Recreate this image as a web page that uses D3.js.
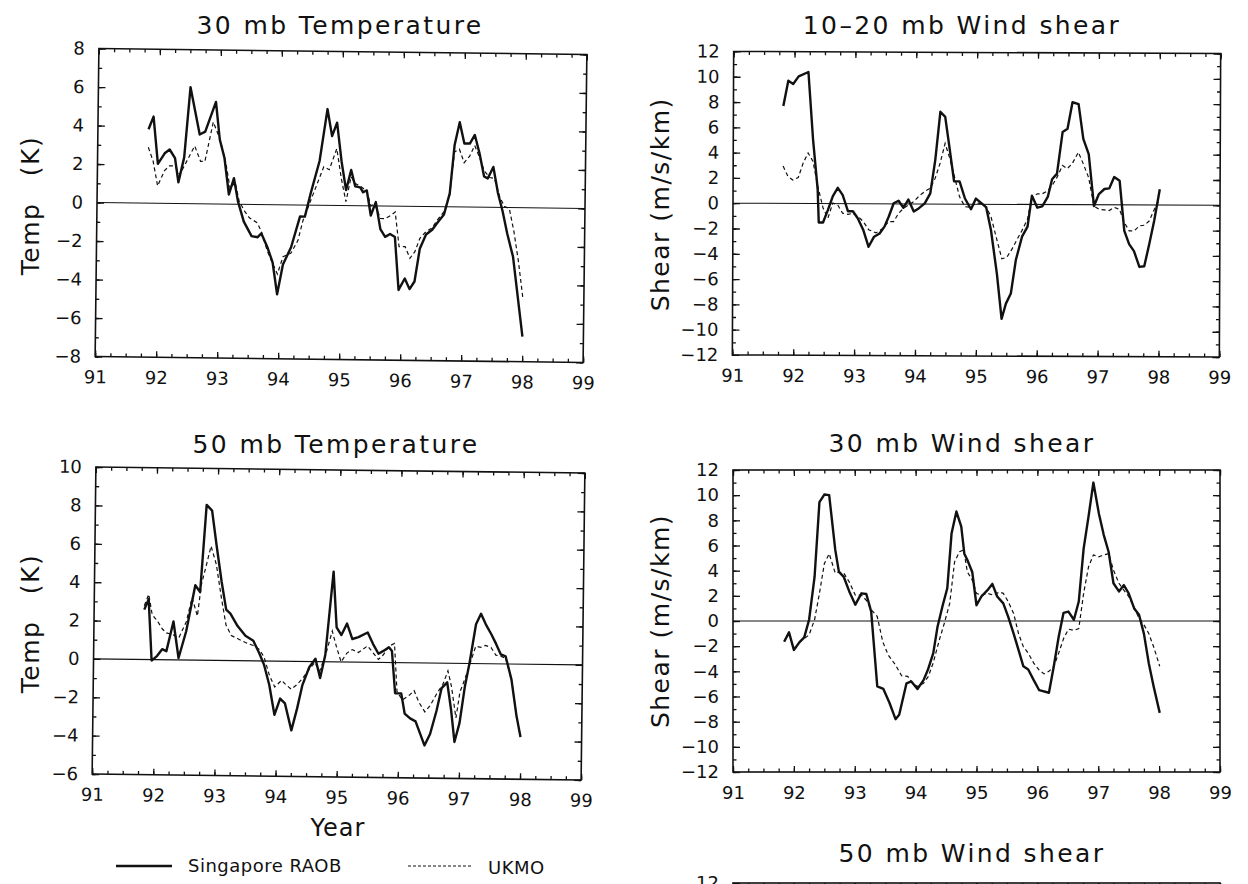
<!DOCTYPE html>
<html><head><meta charset="utf-8">
<script src="https://cdn.jsdelivr.net/npm/d3@7"></script>
<style>
html,body{margin:0;padding:0;background:#fff;}
svg{display:block;font-family:"DejaVu Sans",sans-serif;}
</style></head><body>
<svg id="chart" width="1248" height="884"></svg>
<script>
// ---------------- data ----------------
const yearTicks = [91, 92, 93, 94, 95, 96, 97, 98, 99];
const tempTicks30 = [-8, -6, -4, -2, 0, 2, 4, 6, 8];
const tempTicks50 = [-6, -4, -2, 0, 2, 4, 6, 8, 10];
const shearTicks = [-12, -10, -8, -6, -4, -2, 0, 2, 4, 6, 8, 10, 12];
const shearTicksTopOnly = [12];
const titles = ["30 mb Temperature", "10\u201320 mb Wind shear", "50 mb Temperature", "30 mb Wind shear", "50 mb Wind shear"];
const seriesNames = ["Singapore RAOB", "UKMO"];

// 30 mb temperature (K) : [year, value]
const t30Raob = [[91.83,3.84],[91.91,4.5],[91.99,2.05],[92.10,2.6],[92.18,2.8],[92.27,2.35],[92.33,1.1],[92.42,2.4],[92.51,6.05],[92.67,3.6],[92.76,3.75],[92.93,5.3],[93.00,3.35],[93.08,2.4],[93.16,0.5],[93.24,1.35],[93.31,0.15],[93.41,-0.9],[93.54,-1.65],[93.64,-1.7],[93.70,-1.5],[93.80,-2.2],[93.89,-3.0],[93.97,-4.65],[94.06,-3.1],[94.19,-2.2],[94.33,-0.6],[94.41,-0.6],[94.50,0.6],[94.64,2.3],[94.76,5.0],[94.84,3.6],[94.92,4.3],[95.00,2.3],[95.08,0.8],[95.16,1.85],[95.23,1.0],[95.31,0.95],[95.36,0.7],[95.42,0.8],[95.49,-0.5],[95.57,0.2],[95.65,-1.2],[95.73,-1.6],[95.81,-1.45],[95.89,-1.6],[95.96,-4.35],[96.06,-3.75],[96.14,-4.3],[96.22,-3.9],[96.30,-2.2],[96.40,-1.45],[96.50,-1.2],[96.58,-0.85],[96.69,-0.4],[96.78,0.7],[96.85,3.2],[96.93,4.4],[97.01,3.3],[97.10,3.3],[97.18,3.75],[97.26,2.8],[97.34,1.6],[97.40,1.5],[97.49,2.1],[97.57,0.75],[97.65,-0.2],[97.73,-1.35],[97.83,-2.55],[98.00,-6.7]];
const t30Ukmo = [[91.83,2.9],[91.91,2.2],[91.99,0.9],[92.10,1.7],[92.18,1.95],[92.27,1.95],[92.35,1.5],[92.43,2.0],[92.59,3.0],[92.69,2.2],[92.76,2.2],[92.89,4.25],[93.00,3.4],[93.10,2.2],[93.18,0.8],[93.26,1.15],[93.33,0.15],[93.42,-0.35],[93.50,-0.7],[93.63,-0.95],[93.70,-1.4],[93.80,-2.4],[93.89,-3.05],[93.97,-3.6],[94.06,-2.7],[94.19,-2.5],[94.30,-1.85],[94.38,-0.8],[94.48,0.05],[94.58,0.9],[94.71,2.0],[94.80,1.85],[94.92,2.95],[95.00,1.4],[95.08,0.2],[95.16,1.5],[95.23,1.15],[95.32,1.0],[95.42,0.75],[95.49,0.0],[95.55,0.1],[95.65,-0.65],[95.73,-0.65],[95.81,-0.5],[95.89,-0.3],[95.96,-2.1],[96.06,-2.1],[96.14,-2.7],[96.22,-2.35],[96.30,-1.65],[96.40,-1.3],[96.50,-1.1],[96.58,-0.7],[96.69,-0.25],[96.78,0.6],[96.85,2.85],[96.93,3.0],[97.01,2.3],[97.10,2.65],[97.18,3.2],[97.26,2.6],[97.34,1.9],[97.43,1.55],[97.51,1.5],[97.60,0.55],[97.68,0.05],[97.76,-0.05],[97.84,-1.25],[97.92,-2.8],[98.00,-4.7]];

// 10-20 mb wind shear (m/s/km)
const s1020Raob = [[91.82,7.7],[91.90,9.7],[91.98,9.45],[92.07,10.05],[92.23,10.4],[92.31,5.1],[92.39,1.1],[92.41,-1.5],[92.48,-1.5],[92.56,-0.5],[92.64,0.6],[92.72,1.25],[92.80,0.7],[92.89,-0.6],[92.97,-0.6],[93.05,-1.15],[93.14,-2.05],[93.23,-3.4],[93.32,-2.6],[93.41,-2.35],[93.49,-1.8],[93.56,-1.0],[93.64,0.05],[93.72,0.25],[93.80,-0.3],[93.88,0.35],[93.97,-0.6],[94.05,-0.35],[94.15,0.05],[94.24,0.85],[94.32,3.5],[94.40,7.3],[94.48,6.9],[94.55,4.55],[94.63,1.8],[94.72,1.8],[94.81,0.45],[94.91,-0.4],[94.99,0.45],[95.09,0.05],[95.16,-0.25],[95.24,-2.05],[95.34,-5.5],[95.42,-9.05],[95.49,-7.85],[95.57,-7.05],[95.65,-4.4],[95.75,-2.55],[95.84,-1.75],[95.91,0.7],[96.00,-0.25],[96.08,-0.15],[96.17,0.6],[96.24,2.0],[96.32,2.45],[96.41,5.75],[96.49,6.0],[96.57,8.1],[96.67,7.95],[96.75,5.2],[96.84,4.0],[96.93,-0.1],[97.01,0.85],[97.10,1.25],[97.18,1.3],[97.26,2.2],[97.35,1.9],[97.43,-2.05],[97.51,-3.1],[97.59,-3.65],[97.68,-4.9],[97.76,-4.85],[97.84,-3.1],[97.92,-1.25],[98.01,1.25]];
const s1020Ukmo = [[91.82,2.95],[91.90,2.15],[91.98,1.85],[92.07,2.05],[92.15,3.2],[92.23,4.0],[92.31,3.35],[92.39,1.4],[92.48,-0.35],[92.56,-1.15],[92.64,0.05],[92.72,-0.1],[92.80,-0.75],[92.89,-0.85],[92.97,-0.75],[93.05,-1.0],[93.14,-1.4],[93.23,-2.05],[93.35,-2.3],[93.45,-2.0],[93.56,-1.4],[93.64,-1.4],[93.72,-0.75],[93.80,-0.35],[93.88,-0.1],[93.97,0.2],[94.05,0.6],[94.15,1.0],[94.24,1.25],[94.32,2.05],[94.40,3.25],[94.48,4.8],[94.55,3.75],[94.63,2.3],[94.72,0.6],[94.81,-0.2],[94.91,-0.25],[94.99,0.1],[95.09,0.05],[95.16,-0.2],[95.24,-1.0],[95.34,-2.85],[95.42,-4.3],[95.50,-4.2],[95.59,-3.5],[95.66,-2.85],[95.75,-2.05],[95.84,-1.15],[95.91,0.6],[96.00,0.85],[96.08,0.85],[96.17,1.1],[96.24,1.5],[96.32,2.15],[96.41,3.1],[96.49,2.85],[96.57,3.25],[96.67,4.15],[96.75,3.25],[96.84,2.15],[96.93,-0.1],[97.01,-0.35],[97.10,-0.4],[97.18,-0.45],[97.26,-0.2],[97.35,-0.35],[97.43,-1.4],[97.51,-2.05],[97.59,-2.05],[97.68,-1.65],[97.76,-1.6],[97.84,-1.25],[97.92,-0.35],[98.01,0.45]];

// 50 mb temperature (K)
const t50Raob = [[91.82,2.6],[91.89,3.15],[91.95,-0.05],[92.04,0.2],[92.12,0.55],[92.19,0.45],[92.30,2.0],[92.39,0.1],[92.51,1.5],[92.65,3.9],[92.73,3.55],[92.82,8.1],[92.91,7.8],[92.99,6.0],[93.08,4.1],[93.16,2.65],[93.23,2.45],[93.35,1.8],[93.48,1.3],[93.61,1.05],[93.71,0.4],[93.79,-0.2],[93.88,-1.25],[93.97,-2.8],[94.06,-1.95],[94.14,-2.2],[94.25,-3.6],[94.34,-2.45],[94.42,-1.25],[94.53,-0.3],[94.63,0.15],[94.71,-0.85],[94.79,0.35],[94.91,4.7],[94.97,1.8],[95.05,1.4],[95.14,2.0],[95.23,1.2],[95.33,1.3],[95.48,1.55],[95.57,0.95],[95.66,0.45],[95.74,0.6],[95.83,0.8],[95.88,0.6],[95.94,-1.6],[96.04,-1.6],[96.10,-2.65],[96.19,-2.9],[96.28,-3.05],[96.43,-4.3],[96.52,-3.7],[96.62,-2.5],[96.70,-1.3],[96.79,-1.0],[96.86,-2.45],[96.92,-4.1],[97.00,-3.1],[97.08,-1.2],[97.15,0.0],[97.25,2.05],[97.33,2.6],[97.41,2.05],[97.50,1.55],[97.58,1.05],[97.66,0.5],[97.74,0.4],[97.84,-0.8],[97.93,-2.7],[98.00,-3.8]];
const t50Ukmo = [[91.82,2.8],[91.89,3.4],[91.95,2.35],[92.04,2.0],[92.12,1.6],[92.19,1.4],[92.30,1.3],[92.39,1.15],[92.51,2.0],[92.60,3.25],[92.69,2.3],[92.75,3.95],[92.83,5.0],[92.90,5.95],[92.99,5.0],[93.08,3.25],[93.16,1.85],[93.25,1.3],[93.35,1.15],[93.48,0.95],[93.61,0.8],[93.71,0.6],[93.79,0.2],[93.88,-0.75],[93.97,-1.35],[94.08,-1.0],[94.16,-1.25],[94.24,-1.45],[94.32,-1.25],[94.42,-0.9],[94.52,-0.45],[94.62,-0.05],[94.70,-0.5],[94.79,0.3],[94.90,1.6],[94.97,0.8],[95.05,0.0],[95.14,0.45],[95.23,0.65],[95.33,0.5],[95.48,0.85],[95.57,0.5],[95.66,0.15],[95.74,0.4],[95.83,0.85],[95.92,1.0],[95.97,-1.5],[96.06,-1.95],[96.17,-1.7],[96.25,-1.45],[96.33,-2.05],[96.43,-2.55],[96.52,-2.2],[96.62,-1.6],[96.72,-1.1],[96.80,-0.4],[96.86,-1.2],[96.94,-2.85],[97.00,-1.5],[97.08,-0.8],[97.15,-0.1],[97.25,0.9],[97.33,0.85],[97.41,0.95],[97.50,0.85],[97.58,0.45],[97.66,0.4],[97.74,0.3],[97.84,-0.8],[97.93,-2.7],[98.00,-3.8]];

// 30 mb wind shear (m/s/km)
const s30Raob = [[91.84,-1.65],[91.92,-0.9],[92.00,-2.3],[92.09,-1.7],[92.17,-1.3],[92.25,0.1],[92.34,3.5],[92.42,9.45],[92.50,10.05],[92.58,10.0],[92.68,5.65],[92.74,3.9],[92.82,3.5],[92.91,2.35],[93.01,1.3],[93.11,2.2],[93.19,2.15],[93.27,0.75],[93.37,-5.2],[93.47,-5.4],[93.57,-6.5],[93.67,-7.8],[93.73,-7.45],[93.85,-4.95],[93.93,-4.8],[94.03,-5.4],[94.13,-4.7],[94.20,-3.9],[94.29,-2.55],[94.36,-0.45],[94.44,1.15],[94.52,2.6],[94.59,6.95],[94.67,8.7],[94.75,7.5],[94.80,5.35],[94.85,4.85],[94.93,3.9],[95.00,1.25],[95.08,1.95],[95.18,2.45],[95.26,2.95],[95.34,1.95],[95.44,1.4],[95.52,0.35],[95.61,-1.0],[95.69,-2.3],[95.77,-3.6],[95.85,-3.85],[95.94,-4.7],[96.03,-5.5],[96.19,-5.7],[96.27,-3.6],[96.35,-1.25],[96.43,0.65],[96.51,0.75],[96.60,0.1],[96.68,1.55],[96.76,5.75],[96.84,8.3],[96.92,11.0],[97.01,8.55],[97.09,6.85],[97.17,5.5],[97.25,3.0],[97.34,2.35],[97.42,2.85],[97.50,2.2],[97.59,1.0],[97.67,0.5],[97.75,-1.0],[97.83,-3.35],[97.91,-5.2],[98.01,-7.3]];
const s30Ukmo = [[92.18,-1.35],[92.25,-1.1],[92.34,0.1],[92.42,2.2],[92.50,4.55],[92.58,5.35],[92.68,3.8],[92.74,3.9],[92.82,3.8],[92.91,3.1],[93.01,2.05],[93.11,2.05],[93.19,1.65],[93.28,0.85],[93.37,0.35],[93.46,-1.65],[93.55,-2.7],[93.67,-3.5],[93.77,-4.35],[93.87,-4.4],[93.95,-4.95],[94.03,-5.2],[94.13,-4.95],[94.21,-4.4],[94.29,-3.3],[94.39,-1.5],[94.47,-0.2],[94.56,1.4],[94.64,4.7],[94.72,5.5],[94.79,5.65],[94.85,3.9],[94.93,3.25],[95.00,2.2],[95.08,2.05],[95.18,2.2],[95.28,2.05],[95.37,2.3],[95.44,2.2],[95.52,1.55],[95.61,0.6],[95.69,-1.0],[95.77,-2.05],[95.85,-2.55],[95.94,-3.35],[96.03,-3.9],[96.11,-4.2],[96.19,-4.0],[96.27,-3.6],[96.35,-2.55],[96.43,-1.4],[96.51,-0.65],[96.60,-0.75],[96.68,-0.6],[96.76,2.2],[96.84,4.3],[96.92,5.25],[97.01,5.1],[97.09,5.25],[97.17,5.35],[97.25,4.05],[97.34,3.0],[97.42,2.45],[97.50,1.95],[97.59,1.1],[97.67,0.2],[97.75,-0.3],[97.83,-1.0],[97.91,-2.05],[98.01,-3.6]];

// ---------------- drawing ----------------
const svg = d3.select("#chart");
svg.append("rect").attr("width", 1248).attr("height", 884).attr("fill", "#fff");

const panels = [
  {title: titles[0], ylab: "Temp\u2003(K)", box: [97, 585, 51.5, 359.5], rot: 0.7, dom: [-8, 8], ticks: tempTicks30,
   raob: t30Raob, ukmo: t30Ukmo, tx: 340, ty: 34, lx: 30, xlabels: true},
  {title: titles[1], ylab: "Shear (m/s/km)", box: [733, 1220, 52.5, 356], rot: 0.25, dom: [-12, 12], ticks: shearTicks,
   raob: s1020Raob, ukmo: s1020Ukmo, tx: 962, ty: 34, lx: 660, xlabels: true},
  {title: titles[2], ylab: "Temp\u2003(K)", box: [94, 583, 470, 777], rot: 0.7, dom: [-6, 10], ticks: tempTicks50,
   raob: t50Raob, ukmo: t50Ukmo, tx: 336, ty: 453, lx: 30, xlabels: true},
  {title: titles[3], ylab: "Shear (m/s/km)", box: [733, 1220, 470, 772], rot: 0, dom: [-12, 12], ticks: shearTicks,
   raob: s30Raob, ukmo: s30Ukmo, tx: 962, ty: 452, lx: 660, xlabels: true},
  {title: titles[4], ylab: null, box: [733, 1220, 883, 1187], rot: 0, dom: [-12, 12], ticks: shearTicksTopOnly,
   raob: null, ukmo: null, tx: 972, ty: 862, lx: 660, xlabels: false}
];

function quarterTicks() { return d3.range(91, 99.001, 0.25); }

panels.forEach((p) => {
  const [L, R, T, B] = p.box;
  const cx = (L + R) / 2, cy = (T + B) / 2;
  const x = d3.scaleLinear().domain([91, 99]).range([L, R]);
  const y = d3.scaleLinear().domain(p.dom).range([B, T]);

  // title
  svg.append("text").attr("x", p.tx).attr("y", p.ty).attr("text-anchor", "middle")
    .attr("font-size", 25).attr("letter-spacing", 2.4).attr("fill", "#111").text(p.title);
  if (p.ylab) {
    svg.append("text").attr("transform", `translate(${p.lx},${cy}) rotate(-90)`)
      .attr("text-anchor", "middle").attr("font-size", 25).attr("letter-spacing", 1.5)
      .attr("fill", "#111").attr("dy", "0.35em").style("white-space", "pre").text(p.ylab);
  }

  const g = svg.append("g").attr("transform", `rotate(${p.rot},${cx},${cy})`);
  const minorY = d3.range(p.dom[0], p.dom[1] + 0.001, 1);

  function styleAxis(sel, fs) {
    sel.select(".domain").remove();
    sel.selectAll(".tick line").attr("stroke", "#111").attr("stroke-width", 1.3);
    sel.selectAll(".tick text").attr("font-size", fs).attr("fill", "#111").attr("font-family", '"DejaVu Sans", sans-serif');
  }
  if (p.xlabels) {
    // minor ticks
    g.append("g").attr("transform", `translate(0,${B})`)
      .call(d3.axisBottom(x).tickValues(quarterTicks()).tickSize(-3.5).tickFormat("")).call(s => styleAxis(s, 0));
    g.append("g").attr("transform", `translate(${L},0)`)
      .call(d3.axisLeft(y).tickValues(minorY).tickSize(-3.5).tickFormat("")).call(s => styleAxis(s, 0));
    g.append("g").attr("transform", `translate(${R},0)`)
      .call(d3.axisRight(y).tickValues(minorY).tickSize(-3.5).tickFormat("")).call(s => styleAxis(s, 0));
    g.append("g").attr("transform", `translate(0,${B})`)
      .call(d3.axisBottom(x).tickValues(yearTicks).tickSize(-6).tickPadding(14).tickFormat(d3.format("d")))
      .call(s => styleAxis(s, 18));
    g.append("g").attr("transform", `translate(${R},0)`)
      .call(d3.axisRight(y).tickValues(p.ticks).tickSize(-7).tickFormat("")).call(s => styleAxis(s, 0));
  }
  g.append("g").attr("transform", `translate(0,${T})`)
    .call(d3.axisTop(x).tickValues(quarterTicks()).tickSize(-3.5).tickFormat("")).call(s => styleAxis(s, 0));
  g.append("g").attr("transform", `translate(0,${T})`)
    .call(d3.axisTop(x).tickValues(yearTicks).tickSize(-6).tickFormat("")).call(s => styleAxis(s, 0));
  g.append("g").attr("transform", `translate(${L},0)`)
    .call(d3.axisLeft(y).tickValues(p.ticks).tickSize(-7).tickPadding(14).tickFormat(d3.format("d")))
    .call(s => styleAxis(s, 18));

  // frame
  g.append("rect").attr("x", L).attr("y", T).attr("width", R - L).attr("height", B - T)
    .attr("fill", "none").attr("stroke", "#111").attr("stroke-width", 1.6);

  if (p.raob) {
    // zero line
    g.append("line").attr("x1", x(91)).attr("x2", x(99)).attr("y1", y(0)).attr("y2", y(0))
      .attr("stroke", "#111").attr("stroke-width", 1.1);
    const line = d3.line().x(d => x(d[0])).y(d => y(d[1]));
    g.append("path").datum(p.ukmo).attr("d", line).attr("fill", "none")
      .attr("stroke", "#111").attr("stroke-width", 1.2).attr("stroke-dasharray", "4,3");
    g.append("path").datum(p.raob).attr("d", line).attr("fill", "none")
      .attr("stroke", "#111").attr("stroke-width", 2.4).attr("stroke-linejoin", "round");
  }
});

// x-axis title
svg.append("text").attr("x", 338).attr("y", 836).attr("text-anchor", "middle")
  .attr("font-size", 24).attr("letter-spacing", 1).attr("fill", "#111").text("Year");

// legend
const lg = svg.append("g");
lg.append("line").attr("x1", 116).attr("x2", 172).attr("y1", 866).attr("y2", 866)
  .attr("stroke", "#111").attr("stroke-width", 2.4);
lg.append("text").attr("x", 188).attr("y", 872).attr("font-size", 18).attr("letter-spacing", 0.5).attr("fill", "#111").text(seriesNames[0]);
lg.append("line").attr("x1", 408).attr("x2", 472).attr("y1", 866).attr("y2", 866)
  .attr("stroke", "#111").attr("stroke-width", 1.2).attr("stroke-dasharray", "3,2");
lg.append("text").attr("x", 488).attr("y", 874).attr("font-size", 18).attr("letter-spacing", 0.5).attr("fill", "#111").text(seriesNames[1]);
</script>
</body></html>
